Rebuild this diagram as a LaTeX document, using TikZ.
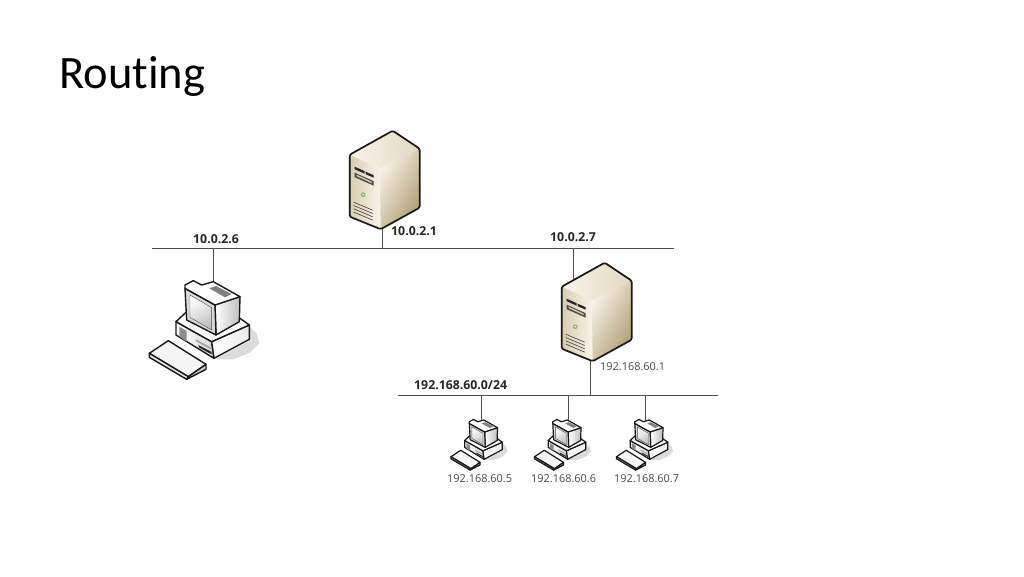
\documentclass[tikz,border=0pt]{standalone}
\usepackage{fontspec}
\setmainfont{Open Sans}
\newfontfamily\titlefont{Carlito}
\definecolor{bus}{HTML}{4F4F4F}
\definecolor{labelgray}{HTML}{4A4A4A}
\definecolor{srvlight}{HTML}{F8F4EA}
\definecolor{srvmid}{HTML}{D8CDB0}
\definecolor{srvdark}{HTML}{B09C72}
\tikzset{
  busline/.style={draw=bus,line width=1pt},
  boldlabel/.style={font=\fontsize{12.3}{13}\selectfont\bfseries,text=black!85,inner sep=0pt},
  graylabel/.style={font=\fontsize{10.9}{12}\selectfont,text=labelgray,inner sep=0pt},
  outl/.style={draw=black!90,line join=round},
  serverpic/.pic={
    \path[left color=srvlight,right color=srvmid!70!srvlight] (0,-1)--(27,17)--(-13,37)--(-43,23)--cycle;
    \path[left color=srvmid,right color=srvlight] (-43,23)--(-13,37)--(-12,97.5)--(-43,85)--cycle;
    \path[shading=axis,left color=srvlight,right color=srvdark,shading angle=60] (-13,37)--(27,17)--(27,76)--(-12,97.5)--cycle;
    \draw[outl,rounded corners=1.5pt] (0,-1)--(27,17)--(27,76)--(-12,97.5)--(-43,85)--(-43,23)--cycle;
    \fill[black!85] (-38,35)--(-28,39.5)--(-28,42)--(-38,37.5)--cycle;
    \fill[black!85] (-27,40)--(-19,43.5)--(-19,46)--(-27,42.5)--cycle;
    \fill[black!70] (-38,41)--(-19,49.5)--(-19,54)--(-38,45.5)--cycle;
    \fill[srvmid] (-36,43)--(-21,50)--(-21,51.5)--(-36,44.5)--cycle;
    \fill[black!55!green!50!white] (-29.5,63) circle (2.4);
    \fill[white!80!green] (-29.5,63) circle (1);
    \foreach \yy in {0,3.3,6.6,9.9}{
      \draw[black!75,line width=0.6pt] (-39,70.5+\yy)--(-20,78.5+\yy);
    }
  },
  pcpic/.pic={
    \fill[black!20,draw=none,opacity=.7] (225,268)--(330,212)--(328,170)--(350,190)--(358,220)--(330,248)--(280,268)--cycle;
    \path[left color=white,right color=black!15,outl] (108,155)--(215,215)--(222,265)--(108,195)--cycle;
    \path[left color=white,right color=black!8,outl] (215,215)--(328,165)--(328,208)--(222,265)--cycle;
    \fill[white,outl] (108,155)--(140,125)--(265,120)--(328,165)--(215,215)--cycle;
    \fill[black!45] (118,170)--(140,183)--(140,215)--(118,200)--cycle;
    \fill[black!85] (175,225)--(215,246)--(215,253)--(178,233)--cycle;
    \fill[black!35] (168,208)--(212,232)--(212,238)--(168,214)--cycle;
    \path[left color=white,right color=black!25,outl] (225,105)--(300,80)--(298,155)--(228,195)--cycle;
    \fill[black!15,outl] (135,55)--(225,105)--(228,195)--(140,150)--cycle;
    \fill[white,outl] (135,55)--(135,45)--(160,32)--(185,45)--(220,35)--(300,80)--(225,105)--cycle;
    \path[shading=axis,top color=white,bottom color=black!25,shading angle=30,draw=black!70,line width=.4pt] (150,75)--(215,113)--(215,180)--(150,142)--cycle;
    \fill[black!50] (208,55)--(228,48)--(275,72)--(255,82)--cycle;
    \fill[white!96!black,outl] (28,250)--(85,212)--(198,283)--(145,320)--cycle;
    \fill[black!10,outl] (28,250)--(145,320)--(140,328)--(28,262)--cycle;
    \fill[black!20,outl] (145,320)--(198,283)--(198,298)--(140,328)--cycle;
  }
}
\begin{document}
\begin{tikzpicture}[x=1pt,y=-1pt]
\useasboundingbox (0,0) rectangle (1024,576);
\fill[white] (0,0) rectangle (1024,576);
\node[font=\titlefont\fontsize{46.5}{50}\selectfont,text=black,anchor=base west,inner sep=0pt] (title) at (59,88) {Rout\kern0pt ing};
% bus ends and ports
\coordinate (busAL) at (152,248); \coordinate (busAR) at (674,248);
\coordinate (busBL) at (398,395); \coordinate (busBR) at (718,395);
\coordinate (tapS1) at (382,248); \coordinate (portS1) at (382,225);
\coordinate (tapPC) at (213,248); \coordinate (portPC) at (213,283);
\coordinate (tapS2) at (573,248); \coordinate (portS2) at (573,282);
\coordinate (tapS2b) at (590,395); \coordinate (portS2b) at (590,360);
\coordinate (tapH1) at (481,395); \coordinate (portH1) at (481,422);
\coordinate (tapH2) at (568,395); \coordinate (portH2) at (568,422);
\coordinate (tapH3) at (645.3,395); \coordinate (portH3) at (645.3,422);
\draw[busline] (busAL)--(busAR);
\draw[busline] (busBL)--(busBR);
\draw[busline] (tapS1)--(portS1);
\draw[busline] (tapPC)--(portPC);
\draw[busline] (tapS2)--(portS2);
\draw[busline] (tapS2b)--(portS2b);
\draw[busline] (tapH1)--(portH1);
\draw[busline] (tapH2)--(portH2);
\draw[busline] (tapH3)--(portH3);
\pic[line width=1.7pt] at (392.7,131.7) {serverpic};
\pic[line width=1.7pt] at (604.7,263.7) {serverpic};
\pic[scale=.3333,line width=1.4pt] at (140,270) {pcpic};
\pic[scale=.171,line width=1.2pt] at (446.2,414) {pcpic};
\pic[scale=.171,line width=1.2pt] at (529.7,414) {pcpic};
\pic[scale=.171,line width=1.2pt] at (611.7,414) {pcpic};
\node[boldlabel,anchor=base west] (l1) at (193,243) {10.0.2.6};
\node[boldlabel,anchor=base west] (l2) at (391,235) {10.0.2.1};
\node[boldlabel,anchor=base west] (l3) at (550,241) {10.0.2.7};
\node[boldlabel,anchor=base west] (l4) at (414,389) {192.168.60.0/24};
\node[graylabel,anchor=base west] (l5) at (600,370.5) {192.168.60.1};
\node[graylabel,anchor=base west] (l6) at (447,482.5) {192.168.60.5};
\node[graylabel,anchor=base west] (l7) at (531,482.5) {192.168.60.6};
\node[graylabel,anchor=base west] (l8) at (614,482.5) {192.168.60.7};
\end{tikzpicture}
\end{document}
